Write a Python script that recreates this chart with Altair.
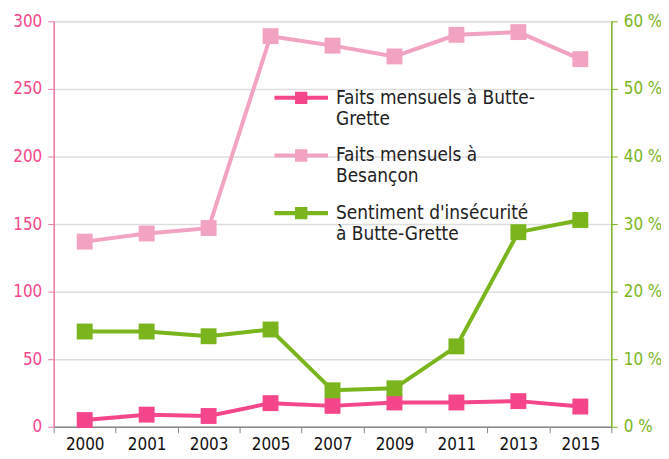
import altair as alt
import pandas as pd

years = ["2000", "2001", "2003", "2005", "2007", "2009", "2011", "2013", "2015"]
butte = [5, 9, 8, 17.5, 15.5, 18, 18, 19, 15]
besancon = [137, 143, 147, 289, 282, 274, 290, 292, 272]
sentiment = [14.1, 14.1, 13.4, 14.4, 5.4, 5.7, 11.9, 28.8, 30.6]

names = ["Faits mensuels à Butte-|Grette", "Faits mensuels à|Besançon", "Sentiment d'insécurité|à Butte-Grette"]
colors = ["#f5468c", "#f2a3c1", "#7ab51d"]

rows = []
for i, y in enumerate(years):
    rows.append({"year": y, "serie": names[0], "v": butte[i], "axis": "left"})
    rows.append({"year": y, "serie": names[1], "v": besancon[i], "axis": "left"})
    rows.append({"year": y, "serie": names[2], "v": sentiment[i] / 100, "axis": "right"})
df = pd.DataFrame(rows)

FONT = "DejaVu Sans Condensed"
symbol = "M-1,-0.075 H1 V0.075 H-1 Z M-0.23,-0.23 H0.23 V0.23 H-0.23 Z"

xenc = alt.X("year:N", sort=years, title=None,
             scale=alt.Scale(paddingInner=0, paddingOuter=0),
             axis=alt.Axis(labelAngle=0, tickBand="extent", domainColor="#888888",
                           tickColor="#888888", labelColor="#111111", labelFontSize=17,
                           labelFont=FONT, tickSize=6, labelPadding=4, grid=False,
                           domainWidth=1.5))

color = alt.Color("serie:N", sort=names,
                  scale=alt.Scale(domain=names, range=colors),
                  legend=alt.Legend(title=None, orient="none", legendX=222, legendY=50,
                                    symbolType=symbol, symbolSize=2900, symbolStrokeWidth=0,
                                    labelFont=FONT, labelFontSize=19, labelColor="#222222",
                                    labelExpr="split(datum.label, '|')", labelLimit=300,
                                    rowPadding=0, labelOffset=8, symbolOffset=0))

base = alt.Chart(df)

left = base.transform_filter("datum.axis == 'left'").mark_line(
    strokeWidth=4, point=alt.OverlayMarkDef(shape="square", size=256, filled=True, opacity=1)
).encode(
    x=xenc,
    y=alt.Y("v:Q", title=None, scale=alt.Scale(domain=[0, 300]),
            axis=alt.Axis(values=[0, 50, 100, 150, 200, 250, 300], orient="left",
                          domainColor="#f07aa6", tickColor="#f07aa6", labelColor="#f5468c",
                          labelFontSize=17, labelFont=FONT, tickSize=6, labelPadding=6,
                          gridColor="#dddddd", gridWidth=1.5, domainWidth=1.5)),
    color=color,
)

right = base.transform_filter("datum.axis == 'right'").mark_line(
    strokeWidth=4, point=alt.OverlayMarkDef(shape="square", size=256, filled=True, opacity=1)
).encode(
    x=xenc,
    y=alt.Y("v:Q", title=None, scale=alt.Scale(domain=[0, 0.6]),
            axis=alt.Axis(values=[0, 0.1, 0.2, 0.3, 0.4, 0.5, 0.6], orient="right",
                          labelExpr="format(datum.value*100, 'd') + ' %'",
                          domainColor="#7ab51d", tickColor="#7ab51d", labelColor="#7ab51d",
                          labelFontSize=17, labelFont=FONT, tickSize=6, labelPadding=6,
                          grid=False, domainWidth=1.5)),
    color=color,
)

chart = alt.layer(left, right).resolve_scale(y="independent").properties(
    width=561, height=408,
    autosize=alt.AutoSizeParams(type="none"),
    padding={"left": 46, "top": 12, "right": 50, "bottom": 30},
).configure_view(stroke=None).configure(background="white")

chart.save("out.html", embed_options={"renderer": "svg", "actions": False})
